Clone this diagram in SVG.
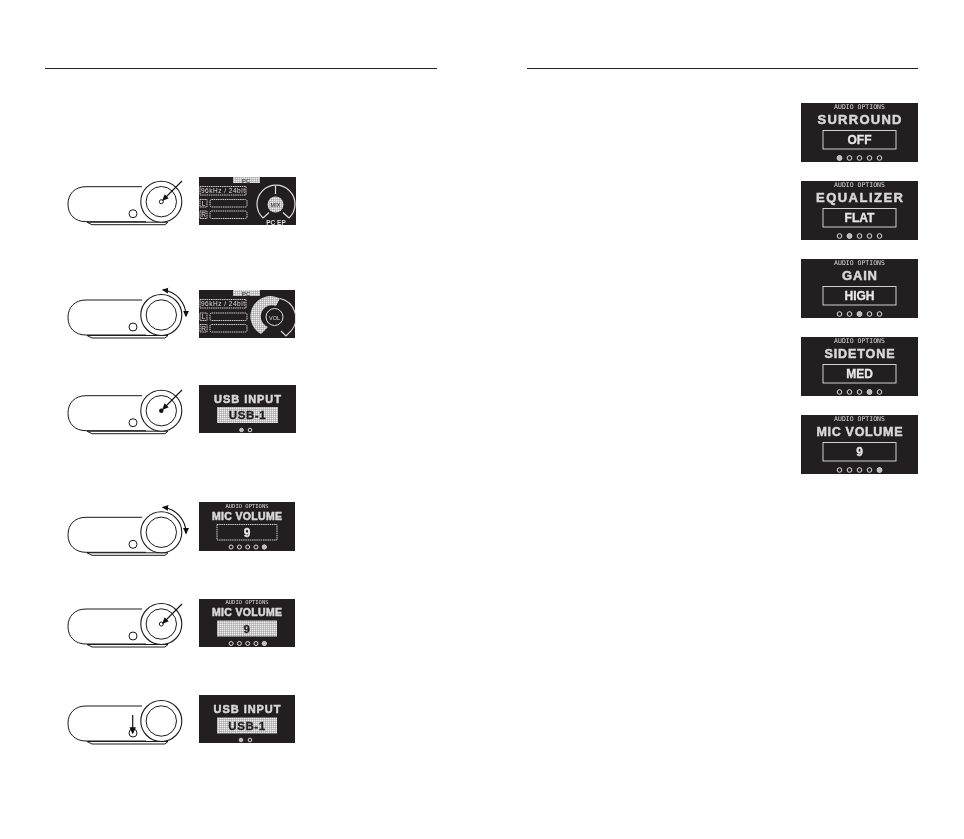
<svg xmlns="http://www.w3.org/2000/svg" width="964" height="839" viewBox="0 0 964 839">
<style>
text{font-family:"Liberation Sans",Arial,sans-serif}
.ln{fill:none;stroke:#1a1a1a;stroke-width:1}
.scr{fill:#231f20}
.screen{filter:url(#gray)}
.big{font-weight:bold;fill:#d8d8d8;text-anchor:middle;stroke:#d8d8d8;stroke-width:.5}
.small{font-family:"DejaVu Sans Mono","Liberation Mono",monospace;font-size:6.500px;fill:#ddd;text-anchor:middle}
.val{font-weight:bold;font-size:12px;fill:#e8e8e8;text-anchor:middle;stroke:#e8e8e8;stroke-width:.3}
.vald{font-weight:bold;font-size:11.500px;fill:#231f20;text-anchor:middle;letter-spacing:.6px;stroke:#231f20;stroke-width:.3}
.box{fill:none;stroke:#d0d0d0;stroke-width:1}
.boxd{fill:none;stroke:#d0d0d0;stroke-width:1;stroke-dasharray:1.500 .7}
.dot{fill:none;stroke:#ddd;stroke-width:1}
.dotf{fill:#bbb;stroke:#ccc;stroke-width:1}
.lab{font-size:6.500px;fill:#ddd;text-anchor:middle}
.labd{font-size:6px;fill:#231f20;text-anchor:middle}
.arrow{fill:none;stroke:#111;stroke-width:1.100}
</style>
<defs>
<filter id="gray" x="0" y="0" width="100%" height="100%" color-interpolation-filters="sRGB"><feOffset dx="0" dy="0"/></filter>
<pattern id="dots" width="2" height="2" patternUnits="userSpaceOnUse"><rect width="2" height="2" fill="#9a9a9a"/><rect width="1.500" height="1.500" fill="#efefef"/></pattern>
<marker id="ah" viewBox="0 0 10 10" refX="8" refY="5" markerWidth="6" markerHeight="6" orient="auto-start-reverse"><path d="M0 0.500 L10 5 L0 9.500 Z" fill="#111"/></marker>
<g id="device">
<path class="ln" d="M142 -15 H86 C75 -15 68 -8 68 2.500 C68 13 75 20 86 20 H146"/>
<path d="M87 20.500 L92 23 H165 L168 20.500 Z" fill="none" stroke="#1a1a1a" stroke-width="1"/>
<circle cx="161.300" cy="0" r="20.500" fill="#fff" stroke="#1a1a1a" stroke-width="1.100"/>
<circle cx="161.300" cy="0" r="15.200" class="ln"/>
<circle cx="133" cy="12" r="4" class="ln" fill="#fff"/>
</g>
<path id="rot" d="M163 -25 A26 26 0 0 1 186 1" class="arrow" marker-start="url(#ah)" marker-end="url(#ah)"/>
<g id="dotsL"><circle cx="-20" cy="0" r="2.300"/><circle cx="-10" cy="0" r="2.300"/><circle cx="0" cy="0" r="2.300"/><circle cx="10" cy="0" r="2.300"/><circle cx="20" cy="0" r="2.300"/></g>
<g id="dotsS"><circle cx="-16.600" cy="0" r="2"/><circle cx="-8.300" cy="0" r="2"/><circle cx="0" cy="0" r="2"/><circle cx="8.300" cy="0" r="2"/><circle cx="16.600" cy="0" r="2"/></g>
</defs>
<rect width="964" height="839" fill="#fff"/>
<g id="connectors">
<line x1="45" y1="68.500" x2="437" y2="68.500" stroke="#222" stroke-width="1"/>
<line x1="527" y1="68.500" x2="918" y2="68.500" stroke="#222" stroke-width="1"/>
</g>

<g id="device-1"><use href="#device" y="201.700"/><circle cx="161.300" cy="201.700" r="2" class="ln"/><line x1="182" y1="181" x2="163" y2="200" class="arrow" marker-end="url(#ah)"/></g>
<g id="device-2"><use href="#device" y="315"/><use href="#rot" y="315"/></g>
<g id="device-3"><use href="#device" y="410.700"/><circle cx="161.300" cy="410.700" r="2.200" fill="#111"/><line x1="182" y1="390" x2="163" y2="409" class="arrow" marker-end="url(#ah)"/></g>
<g id="device-4"><use href="#device" y="532.300"/><use href="#rot" y="532.300"/></g>
<g id="device-5"><use href="#device" y="624"/><circle cx="161.300" cy="624" r="2" class="ln"/><line x1="182" y1="604" x2="163" y2="623" class="arrow" marker-end="url(#ah)"/></g>
<g id="device-6"><use href="#device" y="721"/><line x1="132.700" y1="715" x2="132.700" y2="733" stroke="#111" stroke-width="1.200" marker-end="url(#ah)"/></g>

<g id="screen-1" class="screen">
<rect class="scr" x="199" y="177" width="97" height="48"/>
<rect x="233" y="177" width="27" height="6" fill="url(#dots)"/><text class="labd" x="246" y="182.500">PC</text>
<rect class="boxd" x="200" y="186.500" width="46" height="8.500"/><text class="lab" x="223" y="193.300" textLength="44" lengthAdjust="spacing">96kHz / 24bit</text>
<rect class="boxd" x="200" y="199.500" width="7" height="7.500"/><text class="lab" x="203.500" y="205.700">L</text>
<rect class="boxd" x="210" y="199.500" width="37" height="7.500" rx="1.500"/>
<rect class="boxd" x="200" y="211" width="7" height="7.500"/><text class="lab" x="203.500" y="217.200">R</text>
<rect class="boxd" x="210" y="211" width="37" height="7.500" rx="1.500"/>
<path d="M263 218 A19 19 0 1 1 289 218" fill="none" stroke="#ddd" stroke-width="1.200"/>
<path d="M263 218 L269 212.500 M289 218 L283 212.500 M275.500 186 V194" stroke="#ddd" stroke-width="1.200" fill="none"/>
<circle cx="275.500" cy="204.500" r="8" fill="url(#dots)"/>
<text class="labd" x="275.500" y="206.800" style="font-size:5.500px">MIX</text>
<text class="lab" x="276" y="224.500" style="font-weight:bold">PC EP</text>
</g>

<g id="screen-2" class="screen">
<rect class="scr" x="199" y="290" width="96" height="48"/>
<rect x="233" y="290" width="27" height="6" fill="url(#dots)"/><text class="labd" x="246" y="295.500">PC</text>
<rect class="boxd" x="200" y="299.500" width="46" height="8.500"/><text class="lab" x="223" y="306.300" textLength="44" lengthAdjust="spacing">96kHz / 24bit</text>
<rect class="boxd" x="200" y="313" width="7" height="7.500"/><text class="lab" x="203.500" y="319.200">L</text>
<rect class="boxd" x="210" y="313" width="37" height="7.500" rx="1.500"/>
<rect class="boxd" x="200" y="324.500" width="7" height="7.500"/><text class="lab" x="203.500" y="330.700">R</text>
<rect class="boxd" x="210" y="324.500" width="37" height="7.500" rx="1.500"/>
<path d="M261 334 A20 20 0 0 1 280 298.500 L276 306 A10 10 0 0 0 268 327 Z" fill="url(#dots)"/>
<path d="M280 298.500 A20 20 0 0 1 291 331 L286 336 L281 331" fill="none" stroke="#ddd" stroke-width="1.100"/>
<circle cx="274.500" cy="317" r="8.500" fill="#231f20" stroke="#ddd"/>
<text class="lab" x="274.500" y="319.500" style="font-size:5.500px">VOL</text>
</g>

<g id="screen-3" class="screen">
<rect class="scr" x="199" y="385" width="97" height="48"/>
<text class="big" x="247.500" y="403" font-size="11" textLength="67" lengthAdjust="spacing">USB INPUT</text>
<rect x="217" y="407" width="61" height="16" fill="url(#dots)"/>
<text class="vald" x="247.500" y="419.300">USB-1</text>
<circle class="dotf" cx="241.500" cy="430" r="1.800"/><circle class="dot" cx="250" cy="430" r="1.800"/>
</g>

<g id="screen-4" class="screen">
<rect class="scr" x="199" y="502" width="96" height="49"/>
<text class="small" x="247" y="507.500" style="font-size:5.500px">AUDIO OPTIONS</text>
<text class="big" x="247" y="520" font-size="10.500" textLength="70" lengthAdjust="spacing">MIC VOLUME</text>
<rect class="boxd" x="217" y="524.500" width="60" height="15.500"/>
<text class="val" x="247" y="536.500">9</text>
<use href="#dotsS" x="247.700" y="547" class="dot"/><circle class="dotf" cx="264.300" cy="547" r="2"/>
</g>

<g id="screen-5" class="screen">
<rect class="scr" x="199" y="599" width="96" height="48"/>
<text class="small" x="247" y="603.500" style="font-size:5.500px">AUDIO OPTIONS</text>
<text class="big" x="247" y="616" font-size="10.500" textLength="70" lengthAdjust="spacing">MIC VOLUME</text>
<rect x="217" y="620.500" width="60" height="16" fill="url(#dots)"/>
<text class="vald" x="247" y="632.500">9</text>
<use href="#dotsS" x="247.700" y="643.500" class="dot"/><circle class="dotf" cx="264.300" cy="643.500" r="2"/>
</g>

<g id="screen-6" class="screen">
<rect class="scr" x="199" y="695" width="96" height="48"/>
<text class="big" x="247" y="713" font-size="11" textLength="67" lengthAdjust="spacing">USB INPUT</text>
<rect x="217" y="717.500" width="60" height="16" fill="url(#dots)"/>
<text class="vald" x="247" y="729.500">USB-1</text>
<circle class="dotf" cx="241" cy="740" r="1.800"/><circle class="dot" cx="250" cy="740" r="1.800"/>
</g>

<g id="screen-surround" class="screen">
<rect class="scr" x="801" y="103" width="117" height="59"/>
<text class="small" x="859.500" y="108.500">AUDIO OPTIONS</text>
<text class="big" x="859.500" y="124" font-size="13" textLength="84" lengthAdjust="spacing">SURROUND</text>
<rect class="box" x="823" y="130.500" width="73" height="18.500"/>
<text class="val" x="859.500" y="144">OFF</text>
<use href="#dotsL" x="859.500" y="158" class="dot"/><circle class="dotf" cx="839.500" cy="158" r="2.300"/>
</g>
<g id="screen-equalizer" class="screen">
<rect class="scr" x="801" y="181" width="117" height="59"/>
<text class="small" x="859.500" y="186.500">AUDIO OPTIONS</text>
<text class="big" x="859.500" y="202" font-size="13" textLength="87" lengthAdjust="spacing">EQUALIZER</text>
<rect class="box" x="823" y="208.500" width="73" height="18.500"/>
<text class="val" x="859.500" y="222">FLAT</text>
<use href="#dotsL" x="859.500" y="236" class="dot"/><circle class="dotf" cx="849.500" cy="236" r="2.300"/>
</g>
<g id="screen-gain" class="screen">
<rect class="scr" x="801" y="259" width="117" height="59"/>
<text class="small" x="859.500" y="264.500">AUDIO OPTIONS</text>
<text class="big" x="859.500" y="280" font-size="13" textLength="35" lengthAdjust="spacing">GAIN</text>
<rect class="box" x="823" y="286.500" width="73" height="18.500"/>
<text class="val" x="859.500" y="300">HIGH</text>
<use href="#dotsL" x="859.500" y="314" class="dot"/><circle class="dotf" cx="859.500" cy="314" r="2.300"/>
</g>
<g id="screen-sidetone" class="screen">
<rect class="scr" x="801" y="337" width="117" height="59"/>
<text class="small" x="859.500" y="342.500">AUDIO OPTIONS</text>
<text class="big" x="859.500" y="358" font-size="12.500" textLength="70" lengthAdjust="spacing">SIDETONE</text>
<rect class="box" x="823" y="364.500" width="73" height="18.500"/>
<text class="val" x="859.500" y="378">MED</text>
<use href="#dotsL" x="859.500" y="392" class="dot"/><circle class="dotf" cx="869.500" cy="392" r="2.300"/>
</g>
<g id="screen-mic" class="screen">
<rect class="scr" x="801" y="415" width="117" height="59"/>
<text class="small" x="859.500" y="420.500">AUDIO OPTIONS</text>
<text class="big" x="859.500" y="436" font-size="12.500" textLength="86" lengthAdjust="spacing">MIC VOLUME</text>
<rect class="box" x="823" y="442.500" width="73" height="18.500"/>
<text class="val" x="859.500" y="456">9</text>
<use href="#dotsL" x="859.500" y="470" class="dot"/><circle class="dotf" cx="879.500" cy="470" r="2.300"/>
</g>
</svg>
